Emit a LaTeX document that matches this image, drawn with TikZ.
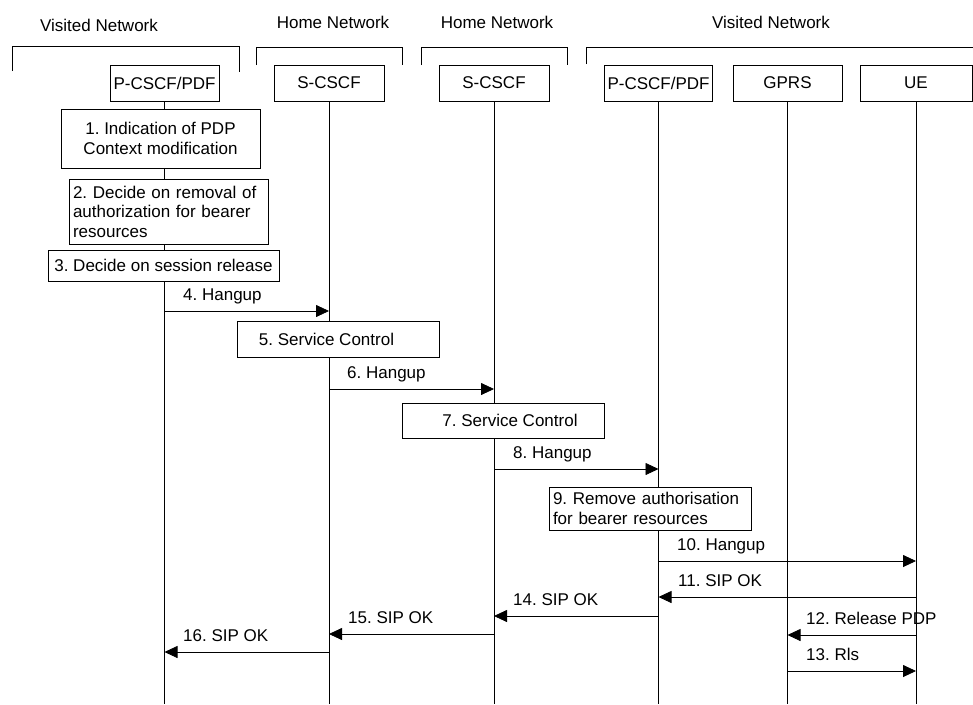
\documentclass[tikz,border=0pt]{standalone}
\usepackage{fontspec}
\setmainfont{Liberation Sans}
\usetikzlibrary{arrows.meta}
\newcommand{\fs}{\fontsize{17pt}{19.5pt}\selectfont\frenchspacing}
\begin{document}
\begin{tikzpicture}[x=1pt,y=-1pt,
  lbl/.style={font=\fs, inner sep=0pt},
  box/.style={draw, fill=white, line width=0.8pt, inner sep=0pt, font=\fs},
  msg/.style={line width=0.8pt, -{Triangle[length=13pt,width=12pt]}},
  life/.style={line width=0.8pt},
  brk/.style={line width=0.8pt}]
\useasboundingbox (0,0) rectangle (973,704);
% headers
\node[lbl, anchor=base] (h1) at (99,31) {Visited Network};
\node[lbl, anchor=base] (h2) at (333,28) {Home Network};
\node[lbl, anchor=base] (h3) at (497,28) {Home Network};
\node[lbl, anchor=base] (h4) at (771,28) {Visited Network};
\draw[brk] (12,71) -- (12,46) -- (239,46) -- (239,72);
\draw[brk] (256,65) -- (256,47) -- (402,47) -- (402,65);
\draw[brk] (421,65) -- (421,47) -- (567,47) -- (567,65);
\draw[brk] (586,64) -- (586,47) -- (973,47);
% entities
\node[box, minimum width=109pt, minimum height=36pt] (p1) at (164.5,83) {P-CSCF/PDF};
\node[box, minimum width=110pt, minimum height=36pt] (s1) at (329,83) {S-CSCF};
\node[box, minimum width=110pt, minimum height=36pt] (s2) at (494,83) {S-CSCF};
\node[box, minimum width=108pt, minimum height=36pt] (p2) at (658.5,83) {P-CSCF/PDF};
\node[box, minimum width=109pt, minimum height=36pt] (g) at (787.5,83) {GPRS};
\node[box, minimum width=112pt, minimum height=36pt] (ue) at (916,83) {UE};
% lifelines
\foreach \n in {p1,s1,s2,p2,g,ue} {
  \coordinate (\n end) at (\n.south |- 0,704);
  \draw[life] (\n.south) -- (\n end);
}
% local boxes
\node[box, minimum width=199pt, minimum height=59pt, align=center] (b1) at (160.5,138.5) {1. Indication of PDP\\Context modification};
\node[box, minimum width=199pt, minimum height=65pt, text width=191pt, align=left] (b2) at (168.5,211.5) {2. Decide on removal of\\authorization for bearer\\resources};
\node[box, minimum width=231pt, minimum height=31pt] (b3) at (163.5,265.5) {3. Decide on session release};
\node[box, minimum width=202pt, minimum height=36pt] (b5) at (338,339) {\hspace*{-23pt}5. Service Control};
\node[box, minimum width=202pt, minimum height=35pt] (b7) at (503,420.5) {\hspace*{14pt}7. Service Control};
\node[box, minimum width=202pt, minimum height=43pt, text width=194pt, align=left] (b9) at (650,508.5) {9. Remove authorisation\\for bearer resources};
% messages
\draw[msg] (p1.south |- 0,311) -- (s1.south |- 0,311);
\node[lbl, anchor=base west] (m4) at (183,300) {4. Hangup};
\draw[msg] (s1.south |- 0,389) -- (s2.south |- 0,389);
\node[lbl, anchor=base west] (m6) at (347,378) {6. Hangup};
\draw[msg] (s2.south |- 0,469) -- (p2.south |- 0,469);
\node[lbl, anchor=base west] (m8) at (513,458) {8. Hangup};
\draw[msg] (p2.south |- 0,561) -- (ue.south |- 0,561);
\node[lbl, anchor=base west] (m10) at (677,550) {10. Hangup};
\draw[msg] (ue.south |- 0,597) -- (p2.south |- 0,597);
\node[lbl, anchor=base west] (m11) at (678,586) {11. SIP OK};
\draw[msg] (p2.south |- 0,616) -- (s2.south |- 0,616);
\node[lbl, anchor=base west] (m14) at (513,605) {14. SIP OK};
\draw[msg] (ue.south |- 0,635) -- (g.south |- 0,635);
\node[lbl, anchor=base west] (m12) at (806,624) {12. Release PDP};
\draw[msg] (s2.south |- 0,634) -- (s1.south |- 0,634);
\node[lbl, anchor=base west] (m15) at (348,623) {15. SIP OK};
\draw[msg] (g.south |- 0,671) -- (ue.south |- 0,671);
\node[lbl, anchor=base west] (m13) at (806,660) {13. Rls};
\draw[msg] (s1.south |- 0,652) -- (p1.south |- 0,652);
\node[lbl, anchor=base west] (m16) at (183,641) {16. SIP OK};
\end{tikzpicture}
\end{document}
